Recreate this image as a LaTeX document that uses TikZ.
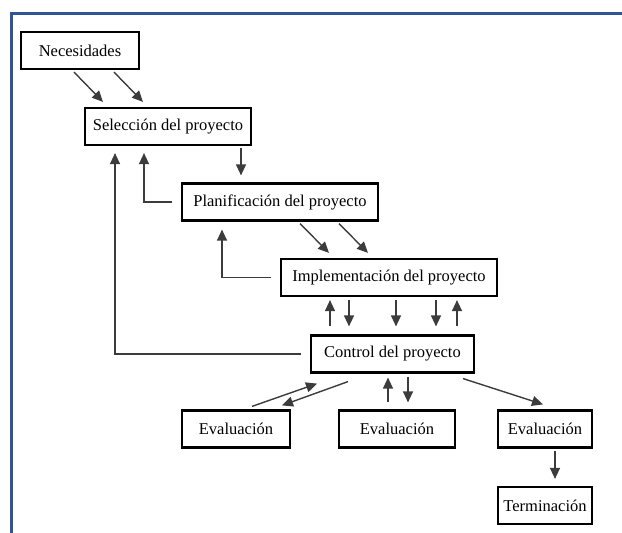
\documentclass[tikz,border=0pt]{standalone}
\usepackage{fontspec}
\setmainfont{Liberation Serif}
\usetikzlibrary{arrows.meta,calc,positioning}
\definecolor{framebl}{RGB}{47,85,151}
\definecolor{conngray}{RGB}{60,60,60}

\begin{document}
\begin{tikzpicture}[x=1pt,y=-1pt,
    box/.style={draw,line width=2.2pt,minimum height=37pt,inner sep=2pt,
      font=\fontsize{16.5}{19}\selectfont},
    conn/.style={conngray,line width=1.4pt},
    arr/.style={conn,-{Triangle[length=11pt,width=10pt]}}]
      \useasboundingbox (0,0) rectangle (622,533);
      % frame
      \draw[framebl,line width=3pt] (11.5,534) -- (11.5,13) -- (623,13);
      % the boxes
      \node[box,minimum width=118pt] (nec) at (80,50.5) {Necesidades};
      \node[box,minimum width=166pt] (sel) at (168,126.5) {Selección del proyecto};
      \node[box,minimum width=196pt] (plan) at (280,202) {Planificación del proyecto};
      \node[box,minimum width=216pt] (impl) at (389,277.5) {Implementación del proyecto};
      \node[box,minimum width=163pt] (ctrl) at (392.5,354) {Control del proyecto};
      \node[box,minimum width=108pt] (evA) at (236,429) {Evaluación};
      \node[box,minimum width=116pt] (evB) at (397,429) {Evaluación};
      \node[box,minimum width=94pt] (evC) at (545,429) {Evaluación};
      \node[box,minimum width=94pt] (term) at (545,505.5) {Terminación};
      % downward flow
      \draw[arr] ($(nec.south)+(-6,2)$) -- ($(sel.north)+(-65,-5)$);
      \draw[arr] ($(nec.south)+(34,2)$) -- ($(sel.north)+(-25,-5)$);
      \draw[arr] ($(sel.south)+(73,2)$) -- ($(plan.north)+(-39,-7)$);
      \draw[arr] ($(plan.south)+(20,2)$) -- ($(impl.north)+(-60,-5)$);
      \draw[arr] ($(plan.south)+(59,2)$) -- ($(impl.north)+(-21,-5)$);
      % feedback lines
      \draw[arr] ([xshift=-9pt]plan.west) -| ($(sel.south)+(-24,7)$);
      \draw[arr] ([xshift=-9pt]impl.west) -| ($(plan.south)+(-58,8)$);
      \draw[arr] ([xshift=-9pt]ctrl.west) -| ($(sel.south)+(-53,7)$);
      % implementation <-> control
      \foreach \dx/\dir in {-59/<-,-40/->,7/->,47/->,68/<-}{
        \coordinate (ic) at ($(impl.south)+(\dx,3)$);
        \draw[conn,\dir,>={Triangle[length=11pt,width=10pt]},shorten >=8pt] (ic) -- (ic |- ctrl.north);
      }
      % control <-> evaluations
      \draw[arr] ($(evA.north)+(16,-3)$) -- ($(ctrl.south)+(-75.5,10)$);
      \draw[arr] ($(ctrl.south)+(-44.5,8)$) -- ($(evA.north)+(46,-4)$);
      \coordinate (eb1) at ($(evB.north)+(-9,-7)$);
      \draw[arr,shorten >=4pt] (eb1) -- (eb1 |- ctrl.south);
      \coordinate (eb2) at ($(ctrl.south)+(15.5,3)$);
      \draw[arr,shorten >=7pt] (eb2) -- (eb2 |- evB.north);
      \draw[arr] ($(ctrl.south east)+(-12,5)$) -- ($(evC.north)+(-2,-5)$);
      \draw[arr] ($(evC.south)+(10,2)$) -- ($(term.north)+(10,-7)$);
\end{tikzpicture}
\end{document}
